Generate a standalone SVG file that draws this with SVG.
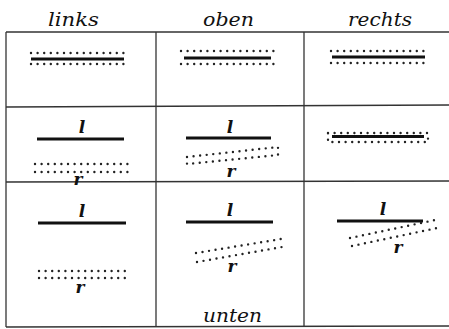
<svg xmlns="http://www.w3.org/2000/svg" width="449" height="329" viewBox="0 0 449 329">
  <style>
    .grid { stroke: #333; stroke-width: 1.3; fill: none; }
    .solid { stroke: #111; stroke-width: 2.8; fill: none; }
    .dots { stroke: #222; stroke-width: 2.4; stroke-linecap: round; stroke-dasharray: 0 6.6; fill: none; }
    .head { font-family: "DejaVu Serif", "Liberation Serif", serif; font-style: italic; font-size: 19px; fill: #111; }
    .sym { font-family: "DejaVu Serif", "Liberation Serif", serif; font-style: italic; font-weight: bold; font-size: 17px; fill: #111; text-anchor: middle; }
  </style>
  <rect width="449" height="329" fill="#fff"/>

  <!-- table grid -->
  <g id="grid" class="grid">
    <line x1="6" y1="32" x2="449" y2="32"/>
    <line x1="6" y1="107" x2="449" y2="105"/>
    <line x1="6" y1="182" x2="449" y2="181"/>
    <line x1="6" y1="327" x2="449" y2="326"/>
    <line x1="6" y1="32" x2="6" y2="327"/>
    <line x1="156" y1="32" x2="156" y2="327"/>
    <line x1="304" y1="32" x2="304" y2="327"/>
  </g>

  <!-- column headings -->
  <g id="headings">
    <text class="head" x="48" y="26" textLength="51" lengthAdjust="spacingAndGlyphs">links</text>
    <text class="head" x="203" y="26" textLength="51" lengthAdjust="spacingAndGlyphs">oben</text>
    <text class="head" x="348" y="26" textLength="64" lengthAdjust="spacingAndGlyphs">rechts</text>
    <text class="head" x="203" y="322" textLength="59" lengthAdjust="spacingAndGlyphs">unten</text>
  </g>

  <!-- row 1 -->
  <g id="r1-links">
    <path class="dots" d="M31 53 H125 M31 64 H125"/>
    <line class="solid" x1="31" y1="59" x2="124" y2="59"/>
  </g>
  <g id="r1-oben">
    <path class="dots" d="M181 51 H279 M181 64 H279"/>
    <line class="solid" x1="184" y1="58" x2="271" y2="58"/>
  </g>
  <g id="r1-rechts">
    <path class="dots" d="M331 51 H427 M331 63 H427"/>
    <line class="solid" x1="332" y1="57" x2="425" y2="57"/>
  </g>

  <!-- row 2 -->
  <g id="r2-links">
    <text class="sym" x="82" y="133">l</text>
    <line class="solid" x1="37" y1="139" x2="124" y2="139"/>
    <path class="dots" d="M35 164 H128 M35 172 H128"/>
    <text class="sym" x="78" y="185">r</text>
  </g>
  <g id="r2-oben">
    <text class="sym" x="230" y="133">l</text>
    <line class="solid" x1="186" y1="138" x2="271" y2="138"/>
    <path class="dots" d="M187 157 L278 147 L278 155 L187 164 Z"/>
    <text class="sym" x="231" y="177">r</text>
  </g>
  <g id="r2-rechts">
    <line class="solid" x1="332" y1="136.5" x2="424" y2="136.5"/>
    <path class="dots" d="M328 133 H428 V142 H328 Z"/>
  </g>

  <!-- row 3 -->
  <g id="r3-links">
    <text class="sym" x="82" y="217">l</text>
    <line class="solid" x1="38" y1="223" x2="126" y2="223"/>
    <path class="dots" d="M39 271 H130 M39 278 H130"/>
    <text class="sym" x="80" y="293">r</text>
  </g>
  <g id="r3-oben">
    <text class="sym" x="230" y="216">l</text>
    <line class="solid" x1="186" y1="222" x2="273" y2="222"/>
    <path class="dots" d="M196 253 L281 239 M197 262 L282 247"/>
    <text class="sym" x="232" y="272">r</text>
  </g>
  <g id="r3-rechts">
    <text class="sym" x="383" y="215">l</text>
    <line class="solid" x1="337" y1="221" x2="423" y2="221"/>
    <path class="dots" d="M350 238 L440 219 M352 246 L442 227"/>
    <text class="sym" x="398" y="253">r</text>
  </g>
</svg>
